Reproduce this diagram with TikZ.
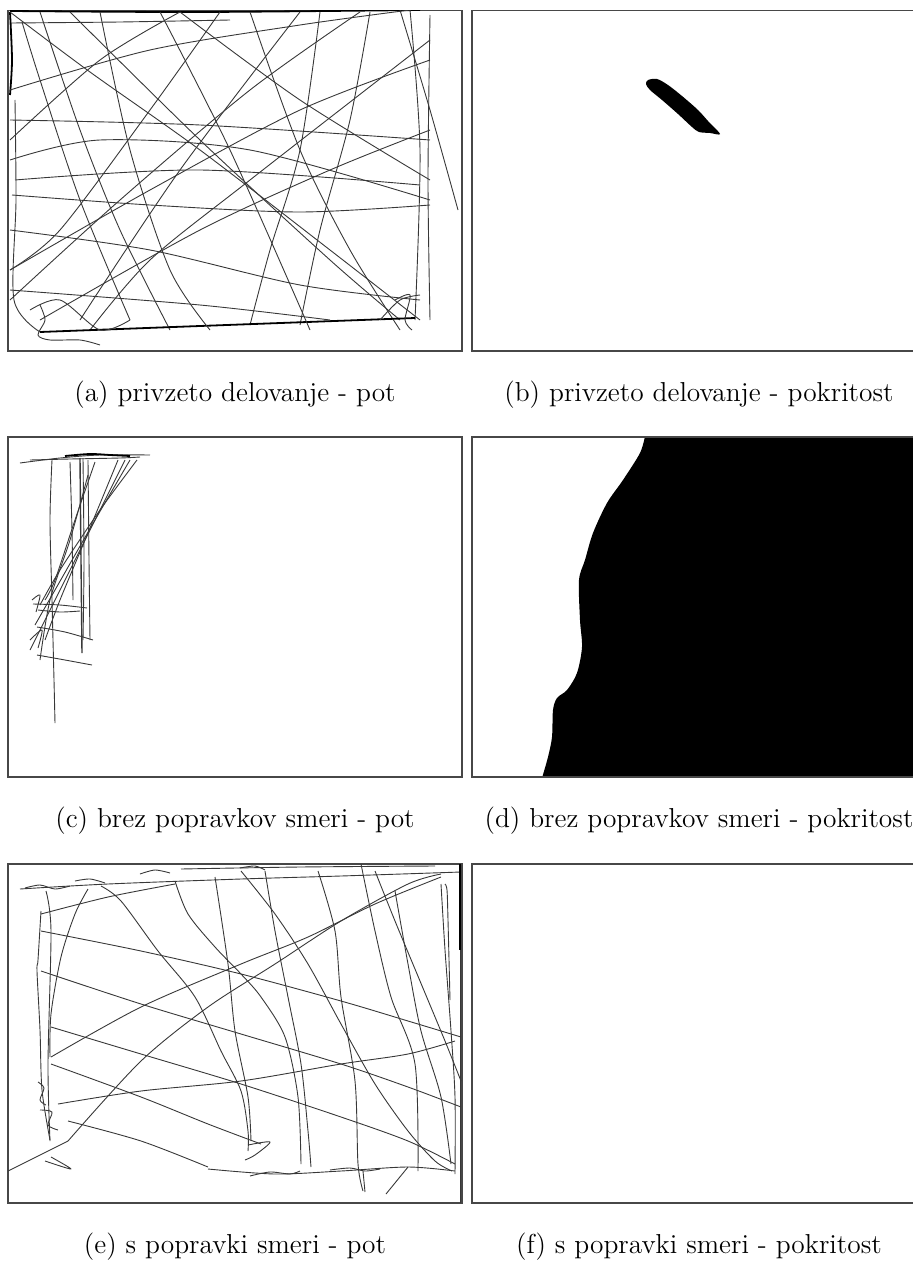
\documentclass[tikz,border=0pt]{standalone}
\begin{document}
\begin{tikzpicture}[x=0.5pt,y=-0.5pt,
  frame/.style={draw=black!72,line width=0.6pt},
  pathline/.style={draw=black!78,line width=0.45pt,line join=round},
  darkline/.style={draw=black,line width=0.9pt,line join=round},
  captext/.style={anchor=base,inner sep=0pt,font=\fontsize{13.7}{16}\selectfont}]
\useasboundingbox (0,0) rectangle (913,1263);
% ---------------- (a) ----------------
\draw[frame] (8,10.5) rectangle (462,351);
\begin{scope}
\clip (8,10.5) rectangle (462,351);
\draw[darkline] plot[smooth] coordinates {(10,11)(200,12)(420,10)};
\draw[pathline] plot[smooth] coordinates {(10,23)(120,22)(230,20)};
\draw[darkline] plot[smooth] coordinates {(10,12)(12,60)(10,95)};
\draw[pathline] plot[smooth] coordinates {(10,12)(90,72)(200,150)(330,250)(420,320)};
\draw[pathline] plot[smooth] coordinates {(22,22)(40,80)(80,200)(130,320)};
\draw[pathline] plot[smooth] coordinates {(40,12)(80,130)(120,230)(170,330)};
\draw[pathline] plot[smooth] coordinates {(10,90)(150,50)(300,25)(410,10)};
\draw[pathline] plot[smooth] coordinates {(10,140)(100,60)(180,12)};
\draw[pathline] plot[smooth] coordinates {(70,12)(200,140)(330,260)(400,320)};
\draw[pathline] plot[smooth] coordinates {(400,10)(430,110)(458,210)};
\draw[pathline] plot[smooth] coordinates {(180,12)(300,100)(430,180)};
\draw[pathline] plot[smooth] coordinates {(10,270)(150,190)(300,110)(430,60)};
\draw[pathline] plot[smooth] coordinates {(10,300)(120,200)(250,90)(360,12)};
\draw[pathline] plot[smooth] coordinates {(40,320)(200,230)(330,170)(430,130)};
\draw[pathline] plot[smooth] coordinates {(12,195)(150,205)(300,212)(430,205)};
\draw[pathline] plot[smooth] coordinates {(15,180)(200,170)(420,185)};
\draw[pathline] plot[smooth] coordinates {(10,230)(150,250)(300,285)(420,300)};
\draw[pathline] plot[smooth] coordinates {(250,12)(300,150)(350,250)(400,330)};
\draw[pathline] plot[smooth] coordinates {(320,12)(300,150)(270,250)(250,325)};
\draw[pathline] plot[smooth] coordinates {(370,12)(350,120)(320,230)(300,325)};
\draw[pathline] plot[smooth] coordinates {(220,12)(150,110)(60,230)(10,270)};
\draw[pathline] plot[smooth] coordinates {(300,12)(180,170)(80,320)};
\draw[pathline] plot[smooth] coordinates {(10,120)(200,125)(430,140)};
\draw[pathline] plot[smooth] coordinates {(10,290)(200,305)(330,320)};
\draw[pathline] plot[smooth] coordinates {(90,330)(150,260)(250,180)(430,40)};
\draw[pathline] plot[smooth] coordinates {(410,10)(420,150)(415,320)};
\draw[pathline] plot[smooth] coordinates {(430,15)(428,180)(430,320)};
\draw[darkline] plot[smooth] coordinates {(40,332)(200,326)(415,318)};
\draw[pathline] plot[smooth] coordinates {(15,100)(16,200)(14,300)(40,332)};
\draw[pathline] plot[smooth] coordinates {(100,12)(130,150)(170,270)(210,330)};
\draw[pathline] plot[smooth] coordinates {(10,160)(100,140)(250,150)(430,200)};
\draw[pathline] plot[smooth] coordinates {(160,12)(230,150)(310,330)};
\draw[pathline] plot[smooth] coordinates {(30,310)(60,300)(100,330)(130,320)};
\draw[pathline] plot[smooth] coordinates {(380,320)(400,300)(420,295)};
\draw[pathline] plot[smooth] coordinates {(40,305)(45,320)(38,335)(50,340)(80,340)(100,345)};
\draw[pathline] plot[smooth] coordinates {(395,300)(410,295)(405,320)(412,330)};
\end{scope}
\node[captext] (capa) at (235,401) {(a) privzeto delovanje - pot};
% ---------------- (b) ----------------
\draw[frame] (913,10.5) -- (472,10.5) -- (472,351) -- (913,351);
\fill[black] plot[smooth cycle] coordinates {(648,80)(657,79)(668,85)(682,96)(698,110)(708,121)(720,134)(710,133)(699,132)(692,127)(678,114)(662,100)(650,90)(646,84)};
\node[captext] (capb) at (699,401) {(b) privzeto delovanje - pokritost};
% ---------------- (c) ----------------
\draw[frame] (8,437) rectangle (462,777);
\draw[pathline] plot[smooth] coordinates {(20,463)(60,458)(100,455)(150,455)};
\draw[darkline] plot[smooth] coordinates {(65,456)(90,454)(110,455)(130,456)};
\draw[pathline] plot[smooth] coordinates {(30,460)(70,459)(120,458)(140,457)};
\draw[pathline] plot[smooth] coordinates {(52,460)(50,520)(52,600)(54,680)(55,723)};
\draw[pathline] plot[smooth] coordinates {(70,462)(72,530)(73,600)};
\draw[pathline,line width=0.7pt] plot[smooth] coordinates {(80,458)(81,560)(82,653)};
\draw[pathline] plot[smooth] coordinates {(83,458)(84,560)(83,640)};
\draw[pathline] plot[smooth] coordinates {(88,460)(89,560)(90,640)};
\draw[pathline] plot[smooth] coordinates {(137,460)(100,510)(60,570)(40,605)};
\draw[pathline] plot[smooth] coordinates {(130,460)(95,520)(55,590)(35,625)};
\draw[pathline] plot[smooth] coordinates {(125,460)(90,530)(50,610)(30,650)};
\draw[pathline] plot[smooth] coordinates {(118,460)(85,540)(60,600)(45,640)};
\draw[pathline] plot[smooth] coordinates {(95,462)(75,520)(55,580)(45,600)};
\draw[pathline] plot[smooth] coordinates {(88,475)(70,540)(50,600)(40,660)};
\draw[pathline] plot[smooth] coordinates {(33,604)(60,605)(87,608)};
\draw[pathline] plot[smooth] coordinates {(38,610)(60,612)(80,611)};
\draw[pathline] plot[smooth] coordinates {(37,627)(65,632)(93,640)};
\draw[pathline] plot[smooth] coordinates {(37,655)(65,660)(92,665)};
\draw[pathline] plot[smooth] coordinates {(32,600)(40,595)(36,612)};
\draw[pathline] plot[smooth] coordinates {(30,640)(42,630)(38,648)};
\node[captext] (capc) at (235,827) {(c) brez popravkov smeri - pot};
% ---------------- (d) ----------------
\begin{scope}
\clip (472,437) rectangle (913,777);
\fill[black] plot[smooth] coordinates {(645,436)(640,453)(623,480)(607,503)(593,533)(585,560)(579,580)(580,620)(582,647)(577,673)(567,690)(557,698)(553,710)(552,737)(548,757)(542,778)} -- (914,778) -- (914,436) -- cycle;
\end{scope}
\draw[frame] (913,437) -- (472,437) -- (472,777) -- (913,777);
\node[captext] (capd) at (699,827) {(d) brez popravkov smeri - pokritost};
% ---------------- (e) ----------------
\draw[frame] (8,864) rectangle (462,1203);
\begin{scope}
\clip (8,864) rectangle (462,1203);
\draw[pathline] plot[smooth] coordinates {(20,889)(108,884)(241,879)(341,876)(461,872)};
\draw[pathline] plot[smooth] coordinates {(181,869)(300,867)(435,866)};
\draw[pathline] plot[smooth] coordinates {(25,888)(40,885)(55,889)(70,886)};
\draw[pathline] plot[smooth] coordinates {(75,881)(90,879)(105,883)};
\draw[pathline] plot[smooth] coordinates {(140,874)(155,870)(170,873)};
\draw[pathline] plot[smooth] coordinates {(240,868)(255,866)(265,870)};
\draw[pathline] plot[smooth] coordinates {(46,891)(51,931)(48,1064)(50,1141)};
\draw[pathline] plot[smooth] coordinates {(41,911)(38,960)(37,971)(40,1030)(42,1090)(50,1140)};
\draw[pathline] plot[smooth] coordinates {(38,1082)(44,1088)(40,1100)(46,1105)};
\draw[pathline] plot[smooth] coordinates {(40,1110)(52,1112)(48,1125)(58,1130)};
\draw[black,line width=1.4pt] (460,864) -- (460,950);
\draw[pathline] (460,950) -- (460,1203);
\draw[pathline] plot[smooth] coordinates {(441,884)(445,950)(451,1031)(455,1097)(455,1174)};
\draw[pathline] plot[smooth] coordinates {(445,884)(447,890)(448,920)(450,1000)};
\draw[pathline] plot[smooth] coordinates {(88,889)(75,914)(61,957)(51,1014)(50,1057)};
\draw[pathline] plot[smooth] coordinates {(101,886)(121,901)(158,951)(195,997)(221,1051)(241,1091)(248,1131)(248,1151)};
\draw[pathline] plot[smooth] coordinates {(175,881)(188,914)(215,947)(241,974)(261,997)(285,1037)(298,1097)(301,1164)};
\draw[pathline] plot[smooth] coordinates {(215,877)(228,964)(235,1031)(248,1097)(251,1141)};
\draw[pathline] plot[smooth] coordinates {(265,871)(275,931)(288,997)(301,1064)(308,1131)(311,1167)};
\draw[pathline] plot[smooth] coordinates {(318,871)(335,931)(341,997)(355,1081)(358,1164)(363,1191)};
\draw[pathline] plot[smooth] coordinates {(241,871)(275,914)(308,964)(341,1024)(375,1084)(408,1131)(435,1161)(452,1171)};
\draw[pathline] plot[smooth] coordinates {(361,864)(375,931)(391,997)(415,1064)(418,1171)};
\draw[pathline] plot[smooth] coordinates {(395,891)(408,964)(421,1031)(441,1097)(451,1164)};
\draw[pathline] plot[smooth] coordinates {(375,871)(395,921)(420,981)(445,1041)(461,1081)};
\draw[pathline] plot[smooth] coordinates {(41,931)(141,951)(241,974)(341,1001)(408,1021)(461,1037)};
\draw[pathline] plot[smooth] coordinates {(41,971)(141,1004)(241,1034)(341,1064)(408,1087)(461,1107)};
\draw[pathline] plot[smooth] coordinates {(51,1027)(141,1054)(241,1084)(341,1117)(408,1141)(455,1164)};
\draw[pathline] plot[smooth] coordinates {(51,1064)(141,1097)(208,1124)(261,1144)};
\draw[pathline] plot[smooth] coordinates {(68,1121)(141,1141)(208,1167)};
\draw[pathline] plot[smooth] coordinates {(51,1057)(141,1007)(241,964)(308,937)(375,904)(441,877)};
\draw[pathline] plot[smooth] coordinates {(68,1141)(141,1061)(208,1007)(275,964)(341,921)(408,884)(441,874)};
\draw[pathline] plot[smooth] coordinates {(58,1104)(141,1091)(241,1081)(341,1064)(408,1054)(455,1041)};
\draw[pathline] (8,1171) -- (68,1141);
\draw[pathline] plot[smooth] coordinates {(41,914)(108,897)(175,884)};
\draw[pathline] plot[smooth] coordinates {(208,1169)(275,1174)(341,1171)(408,1167)(455,1171)};
\draw[pathline] plot[smooth] coordinates {(250,1176)(270,1172)(290,1174)(300,1171)};
\draw[pathline] plot[smooth] coordinates {(330,1170)(350,1168)(365,1171)(380,1169)};
\draw[pathline] (363,1171) -- (365,1192);
\draw[pathline] (408,1167) -- (386,1194);
\draw[pathline] plot[smooth] coordinates {(45,1161)(71,1169)(51,1157)};
\draw[pathline] plot[smooth] coordinates {(248,1145)(270,1142)(255,1155)(245,1160)};
\end{scope}
\node[captext] (cape) at (235,1253) {(e) s popravki smeri - pot};
% ---------------- (f) ----------------
\draw[frame] (913,864) -- (472,864) -- (472,1203) -- (913,1203);
\node[captext] (capf) at (699,1253) {(f) s popravki smeri - pokritost};
\end{tikzpicture}
\end{document}
